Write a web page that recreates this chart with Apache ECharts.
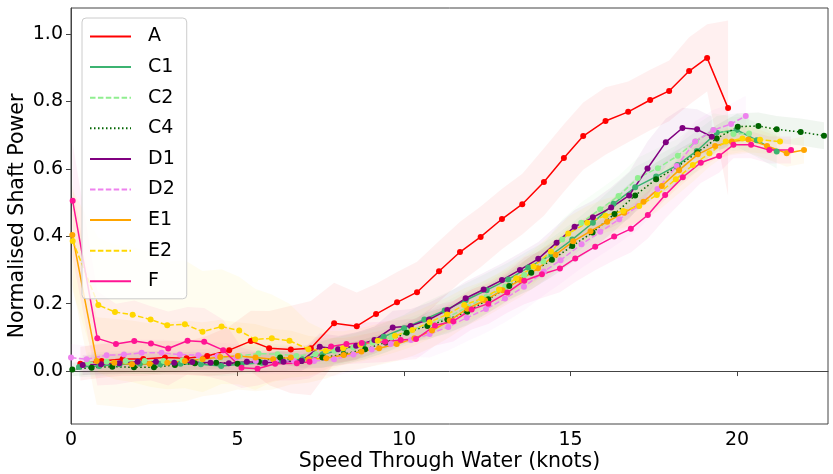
<!DOCTYPE html>
<html>
<head>
<meta charset="utf-8">
<script src="https://cdn.jsdelivr.net/npm/echarts@6/dist/echarts.min.js"></script>
<style>html,body{margin:0;padding:0;background:#fff}#c{width:833px;height:474px}</style>
</head>
<body>
<div id="c"></div>
<script>
// ---- data ----
const xTicks = [0, 5, 10, 15, 20];
const yTicks = [0.0, 0.2, 0.4, 0.6, 0.8, 1.0];

const A_x = [0.28,0.92,1.55,2.17,2.82,3.47,4.09,4.75,5.4,5.95,6.6,7.2,7.9,8.58,9.16,9.79,10.39,11.05,11.68,12.3,12.94,13.55,14.2,14.8,15.38,16.05,16.73,17.39,17.96,18.56,19.1,19.73];
const A_y = [0.022,0.03,0.036,0.036,0.04,0.038,0.045,0.062,0.089,0.068,0.064,0.068,0.142,0.133,0.169,0.204,0.234,0.296,0.353,0.398,0.451,0.495,0.561,0.632,0.697,0.742,0.769,0.804,0.831,0.89,0.929,0.78];
const A_sd = [0.05,0.05,0.05,0.05,0.05,0.05,0.06,0.07,0.09,0.11,0.13,0.14,0.12,0.1,0.09,0.09,0.09,0.09,0.09,0.09,0.09,0.09,0.1,0.1,0.1,0.1,0.09,0.09,0.09,0.1,0.1,0.26];

const C1_x = [0.24,0.85,1.46,2.07,2.68,3.29,3.9,4.51,5.12,5.73,6.34,6.95,7.56,8.17,8.78,9.39,10.0,10.61,11.22,11.85,12.48,13.13,13.73,14.43,15.05,15.67,16.29,16.94,17.57,18.21,18.79,19.39,19.99,20.59,21.19];
const C1_y = [0.012,0.015,0.02,0.022,0.02,0.022,0.02,0.015,0.02,0.025,0.03,0.035,0.05,0.065,0.08,0.102,0.127,0.153,0.18,0.21,0.24,0.272,0.307,0.345,0.39,0.44,0.496,0.545,0.577,0.611,0.653,0.707,0.715,0.685,0.651];
const C1_sd = [0.03,0.03,0.03,0.03,0.03,0.03,0.03,0.03,0.03,0.03,0.03,0.03,0.04,0.04,0.04,0.04,0.04,0.05,0.05,0.05,0.05,0.05,0.05,0.05,0.05,0.05,0.05,0.06,0.06,0.06,0.06,0.05,0.05,0.05,0.05];

const C2_x = [0.5,1.07,1.64,2.21,2.78,3.35,3.92,4.49,5.06,5.63,6.2,6.77,7.34,7.91,8.48,9.05,9.62,10.19,10.76,11.33,11.9,12.47,13.04,13.61,14.18,14.75,15.32,15.89,16.44,17.02,17.62,18.22,18.76,19.29,19.89,20.36];
const C2_y = [0.025,0.028,0.03,0.03,0.03,0.032,0.035,0.04,0.045,0.052,0.05,0.045,0.05,0.06,0.07,0.085,0.1,0.12,0.14,0.16,0.19,0.22,0.25,0.285,0.325,0.39,0.44,0.48,0.519,0.573,0.602,0.639,0.681,0.715,0.703,0.705];
const C2_sd = [0.03,0.03,0.03,0.03,0.03,0.03,0.03,0.03,0.03,0.03,0.03,0.03,0.03,0.04,0.04,0.04,0.04,0.04,0.04,0.05,0.05,0.05,0.05,0.05,0.05,0.06,0.06,0.06,0.06,0.06,0.06,0.05,0.05,0.05,0.05,0.05];

const C4_x = [0.04,0.62,1.24,1.89,2.49,3.12,3.72,4.36,5.0,5.64,6.28,6.92,7.55,8.19,8.83,9.45,10.08,10.7,11.3,11.9,12.53,13.16,13.82,14.44,15.05,15.66,16.32,16.94,17.57,18.21,18.81,19.39,20.02,20.64,21.19,21.91,22.61];
const C4_y = [0.005,0.01,0.013,0.011,0.011,0.018,0.023,0.025,0.022,0.028,0.04,0.03,0.04,0.05,0.065,0.085,0.114,0.134,0.153,0.176,0.213,0.252,0.292,0.33,0.371,0.411,0.466,0.521,0.569,0.606,0.649,0.69,0.725,0.727,0.717,0.709,0.698];
const C4_sd = [0.02,0.02,0.02,0.02,0.02,0.02,0.02,0.02,0.02,0.02,0.02,0.02,0.03,0.03,0.03,0.03,0.03,0.04,0.04,0.04,0.04,0.04,0.05,0.05,0.05,0.05,0.05,0.05,0.05,0.05,0.04,0.04,0.04,0.04,0.04,0.04,0.04];

const D1_x = [0.35,0.9,1.45,2.0,2.55,3.1,3.64,4.19,4.74,5.28,5.83,6.38,6.92,7.47,8.02,8.56,9.11,9.66,10.2,10.75,11.3,11.85,12.39,12.94,13.48,14.03,14.58,15.12,15.67,16.22,16.76,17.31,17.86,18.36,18.8,19.24];
const D1_y = [0.018,0.02,0.023,0.028,0.028,0.025,0.027,0.025,0.023,0.028,0.025,0.028,0.03,0.072,0.065,0.075,0.092,0.129,0.134,0.153,0.181,0.216,0.242,0.27,0.30,0.333,0.381,0.428,0.456,0.485,0.521,0.601,0.679,0.721,0.717,0.695];
const D1_sd = [0.03,0.03,0.03,0.03,0.03,0.03,0.03,0.03,0.03,0.03,0.03,0.03,0.03,0.04,0.04,0.04,0.04,0.05,0.05,0.05,0.05,0.05,0.05,0.05,0.05,0.05,0.05,0.05,0.05,0.06,0.07,0.08,0.07,0.06,0.06,0.06];

const D2_x = [0.0,0.47,1.07,1.59,2.12,2.72,3.27,3.82,4.4,4.97,5.55,6.12,6.7,7.3,7.9,8.48,9.03,9.6,10.21,10.77,11.33,11.88,12.46,13.03,13.6,14.2,14.7,15.33,15.89,16.46,17.03,17.61,18.19,18.74,19.29,19.82,20.26];
const D2_y = [0.04,0.035,0.047,0.049,0.054,0.054,0.049,0.047,0.045,0.04,0.03,0.03,0.03,0.03,0.035,0.049,0.064,0.08,0.092,0.11,0.131,0.158,0.184,0.215,0.25,0.295,0.329,0.376,0.413,0.45,0.49,0.54,0.608,0.681,0.715,0.733,0.757];
const D2_sd = [0.04,0.04,0.04,0.04,0.04,0.04,0.04,0.04,0.04,0.04,0.04,0.04,0.04,0.04,0.05,0.05,0.05,0.05,0.05,0.07,0.07,0.07,0.07,0.07,0.07,0.07,0.07,0.07,0.07,0.07,0.07,0.06,0.06,0.06,0.06,0.06,0.06];

const E1_x = [0.04,0.77,1.3,1.83,2.36,2.89,3.42,3.95,4.48,5.01,5.54,6.07,6.6,7.13,7.66,8.19,8.72,9.25,9.78,10.31,10.84,11.37,11.9,12.43,12.96,13.49,14.02,14.55,15.08,15.6,16.1,16.61,17.19,17.74,18.26,18.82,19.34,19.84,20.34,20.9,21.49,22.01];
const E1_y = [0.404,0.03,0.025,0.02,0.022,0.025,0.03,0.035,0.042,0.045,0.04,0.035,0.04,0.035,0.038,0.048,0.058,0.068,0.08,0.097,0.12,0.15,0.185,0.21,0.24,0.27,0.305,0.345,0.385,0.415,0.443,0.47,0.502,0.549,0.596,0.643,0.668,0.681,0.687,0.668,0.646,0.656];
const E1_sd = [0.15,0.13,0.13,0.13,0.12,0.12,0.12,0.11,0.11,0.1,0.1,0.09,0.08,0.07,0.06,0.05,0.05,0.05,0.05,0.05,0.05,0.05,0.05,0.05,0.05,0.05,0.05,0.05,0.05,0.05,0.05,0.05,0.05,0.05,0.05,0.05,0.04,0.04,0.04,0.04,0.04,0.04];

const E2_x = [0.05,0.82,1.32,1.85,2.39,2.89,3.42,3.95,4.52,5.05,5.53,6.03,6.56,7.13,7.65,8.17,8.69,9.21,9.73,10.25,10.77,11.29,11.81,12.33,12.85,13.37,13.89,14.41,14.93,15.5,16.05,16.58,17.06,17.59,18.16,18.67,19.17,19.66,20.16,20.69,21.29];
const E2_y = [0.386,0.196,0.175,0.167,0.153,0.136,0.139,0.117,0.132,0.12,0.094,0.097,0.09,0.065,0.06,0.068,0.078,0.09,0.105,0.122,0.145,0.168,0.196,0.215,0.242,0.275,0.31,0.355,0.408,0.44,0.461,0.475,0.49,0.522,0.569,0.611,0.646,0.681,0.69,0.686,0.681];
const E2_sd = [0.15,0.2,0.2,0.2,0.2,0.19,0.19,0.18,0.17,0.16,0.15,0.13,0.11,0.08,0.06,0.05,0.05,0.05,0.05,0.05,0.05,0.05,0.05,0.05,0.05,0.05,0.05,0.05,0.05,0.05,0.05,0.05,0.05,0.05,0.05,0.05,0.04,0.04,0.04,0.04,0.04];

const F_x = [0.05,0.79,1.35,1.9,2.4,2.92,3.5,4.0,4.57,5.12,5.6,6.13,6.78,7.16,7.81,8.27,8.73,9.43,9.9,10.36,10.93,11.48,12.03,12.53,13.1,13.61,14.14,14.68,15.14,15.74,16.31,16.81,17.32,17.84,18.37,18.91,19.46,19.89,20.42,20.97,21.62];
const F_y = [0.505,0.097,0.08,0.089,0.082,0.067,0.09,0.087,0.062,0.01,0.007,0.022,0.023,0.028,0.073,0.08,0.083,0.087,0.092,0.095,0.135,0.148,0.183,0.2,0.233,0.268,0.287,0.304,0.334,0.369,0.399,0.422,0.463,0.522,0.575,0.618,0.638,0.671,0.671,0.656,0.656];
const F_sd = [0.17,0.14,0.12,0.12,0.11,0.11,0.1,0.1,0.09,0.06,0.05,0.05,0.05,0.05,0.06,0.06,0.06,0.06,0.06,0.06,0.06,0.06,0.06,0.06,0.06,0.07,0.07,0.07,0.07,0.07,0.07,0.07,0.07,0.07,0.07,0.06,0.05,0.04,0.04,0.04,0.04];

const seriesNames = ['A','C1','C2','C4','D1','D2','E1','E2','F'];
const seriesColors = ['#ff0000','#3cb371','#90ee90','#006400','#800080','#ee82ee','#ffa500','#ffd700','#ff1493'];
const seriesDash = ['solid','solid','dashed','dotted','solid','dashed','solid','dashed','solid'];
const seriesData = [[A_x,A_y,A_sd],[C1_x,C1_y,C1_sd],[C2_x,C2_y,C2_sd],[C4_x,C4_y,C4_sd],[D1_x,D1_y,D1_sd],[D2_x,D2_y,D2_sd],[E1_x,E1_y,E1_sd],[E2_x,E2_y,E2_sd],[F_x,F_y,F_sd]];

// ---- build ----
const FONT = 'DejaVu Sans';
function rgba(hex, a) {
  const n = parseInt(hex.slice(1), 16);
  return 'rgba(' + (n >> 16 & 255) + ',' + (n >> 8 & 255) + ',' + (n & 255) + ',' + a + ')';
}
function dashOf(t) {
  if (t === 'dashed') return [5.5, 2.4];
  if (t === 'dotted') return [1.5, 2.5];
  return 'solid';
}

const bands = [], lines = [];
seriesNames.forEach(function (name, k) {
  const xs = seriesData[k][0], ys = seriesData[k][1], sd = seriesData[k][2];
  const bandData = xs.map(function (x, i) { return [x, ys[i] - sd[i], ys[i] + sd[i]]; });
  const col = seriesColors[k];
  bands.push({
    type: 'custom', name: name + '_band', silent: true, clip: true, z: 1,
    data: bandData,
    encode: { x: 0, y: [1, 2] },
    renderItem: function (params, api) {
      if (params.dataIndex !== 0) return;
      const top = [], bot = [];
      bandData.forEach(function (d) {
        top.push(api.coord([d[0], d[2]]));
        bot.push(api.coord([d[0], d[1]]));
      });
      return { type: 'polygon', shape: { points: top.concat(bot.reverse()) }, style: { fill: rgba(col, 0.06) } };
    }
  });
  lines.push({
    type: 'line', name: name, z: 3,
    data: xs.map(function (x, i) { return [x, ys[i]]; }),
    symbol: 'circle', symbolSize: 6, showSymbol: true,
    lineStyle: { color: col, width: 1.5, type: dashOf(seriesDash[k]) },
    itemStyle: { color: col },
    emphasis: { disabled: true },
    silent: true
  });
});

const chart = echarts.init(document.getElementById('c'), null, { renderer: 'canvas' });
chart.setOption({
  animation: false,
  backgroundColor: '#fff',
  grid: { left: 71, right: 5, top: 8, bottom: 50, containLabel: false, outerBoundsMode: 'none',
    show: true, borderColor: '#444', borderWidth: 1, backgroundColor: 'transparent' },
  xAxis: {
    type: 'value', min: 0, max: 22.73, interval: 5,
    name: 'Speed Through Water (knots)', nameLocation: 'middle', nameGap: 27, nameMoveOverlap: false,
    nameTextStyle: { fontFamily: FONT, fontSize: 20.5, color: '#000' },
    axisLine: { show: true, lineStyle: { color: '#444' } },
    axisTick: { show: true, length: 5, lineStyle: { color: '#444' } },
    axisLabel: { fontFamily: FONT, fontSize: 19, color: '#000', margin: 7, showMaxLabel: false,
      formatter: function (v) { return xTicks.indexOf(v) >= 0 ? String(v) : ''; } },
    splitLine: { show: false }
  },
  yAxis: {
    type: 'value', min: -0.157, max: 1.077, splitNumber: 6,
    name: 'Normalised Shaft Power', nameLocation: 'middle', nameGap: 43, nameMoveOverlap: false,
    nameTextStyle: { fontFamily: FONT, fontSize: 20.5, color: '#000' },
    axisLine: { show: true, lineStyle: { color: '#444' } },
    axisTick: { show: true, length: 5, lineStyle: { color: '#444' } },
    axisLabel: { fontFamily: FONT, fontSize: 19, color: '#000', margin: 8, showMinLabel: false, showMaxLabel: false,
      formatter: function (v) {
        const r = Math.round(v * 10) / 10;
        return (Math.abs(v - r) < 1e-6 && yTicks.indexOf(r) >= 0) ? r.toFixed(1) : '';
      } },
    splitLine: { show: false }
  },
  legend: {
    data: seriesNames, orient: 'vertical', left: 82, top: 18,
    itemWidth: 41, itemHeight: 20, itemGap: 11.6,
    padding: [9, 12, 8, 7],
    backgroundColor: 'rgba(255,255,255,0.8)', borderColor: '#cccccc', borderWidth: 1, borderRadius: 4,
    itemStyle: { opacity: 0 },
    textStyle: { fontFamily: FONT, fontSize: 19, color: '#000', padding: [0, 0, 0, 12] },
    selectedMode: false
  },
  series: bands.concat(lines)
});
</script>
</body>
</html>
